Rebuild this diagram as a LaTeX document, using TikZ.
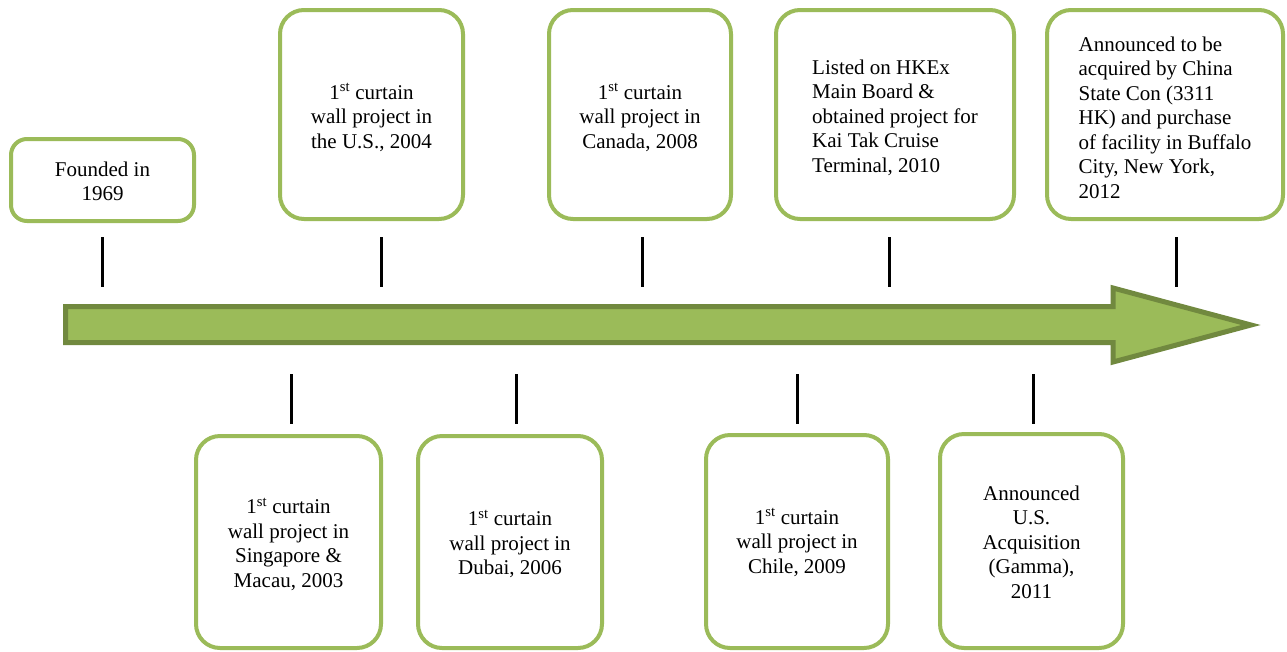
\documentclass[tikz,border=0pt]{standalone}
\usepackage{fontspec}
\setmainfont{Liberation Serif}
\definecolor{boxgreen}{HTML}{9BBB59}
\definecolor{arrowedge}{HTML}{71893F}
\begin{document}
\begin{tikzpicture}[x=1pt,y=-1pt,
  box/.style={draw=boxgreen, line width=4pt, rounded corners=24pt, fill=white, inner sep=0pt},
  smallbox/.style={box, rounded corners=16pt},
  boxtext/.style={font=\fontsize{21}{24.5}\selectfont, align=center, inner sep=0pt, yshift=-3pt},
  tick/.style={line width=3pt, black},
  timearrow/.style={fill=boxgreen, draw=arrowedge, line width=5pt, line join=miter}]
\useasboundingbox (0,0) rectangle (1287,651);

% main arrow
\draw[timearrow] (65.5,306.5) -- (1113,306.5) -- (1113,288) -- (1251,325) -- (1113,362) -- (1113,342.5) -- (65.5,342.5) -- cycle;

% top boxes
\node[smallbox, minimum width=183, minimum height=82,
  label={[boxtext, yshift=1.5pt]center:Founded in\\1969}] (b1969) at (102.5,180) {};
\node[box, minimum width=183, minimum height=209,
  label={[boxtext]center:1\textsuperscript{st} curtain\\wall project in\\the U.S., 2004}] (b2004) at (371.5,114.5) {};
\node[box, minimum width=182, minimum height=209,
  label={[boxtext]center:1\textsuperscript{st} curtain\\wall project in\\Canada, 2008}] (b2008) at (640,114.5) {};
\node[box, minimum width=238, minimum height=209,
  label={[boxtext, align=left]center:Listed on HKEx\\Main Board \&\\obtained project for\\Kai Tak Cruise\\Terminal, 2010}] (b2010) at (895,114.5) {};
\node[box, minimum width=236, minimum height=209,
  label={[boxtext, align=left]center:Announced to be\\acquired by China\\State Con (3311\\HK) and purchase\\of facility in Buffalo\\City, New York,\\2012}] (b2012) at (1165,114.5) {};

% bottom boxes
\node[box, minimum width=185, minimum height=212,
  label={[boxtext, yshift=1pt]center:1\textsuperscript{st} curtain\\wall project in\\Singapore \&\\Macau, 2003}] (b2003) at (288.5,542) {};
\node[box, minimum width=184, minimum height=212,
  label={[boxtext, yshift=1pt]center:1\textsuperscript{st} curtain\\wall project in\\Dubai, 2006}] (b2006) at (510,542) {};
\node[box, minimum width=182, minimum height=213,
  label={[boxtext, yshift=2pt]center:1\textsuperscript{st} curtain\\wall project in\\Chile, 2009}] (b2009) at (797,541.5) {};
\node[box, minimum width=183, minimum height=214,
  label={[boxtext, yshift=2pt]center:Announced\\U.S.\\Acquisition\\(Gamma),\\2011}] (b2011) at (1031.5,541) {};

% ticks
\foreach \n/\x in {1/102,2/381,3/642,4/889,5/1176}{
  \coordinate (ta\n) at (\x,237);
  \coordinate (tb\n) at (\x,287);
  \draw[tick] (ta\n) -- (tb\n);
}
\foreach \n/\x in {6/291,7/516,8/797,9/1033}{
  \coordinate (ta\n) at (\x,374);
  \coordinate (tb\n) at (\x,424);
  \draw[tick] (ta\n) -- (tb\n);
}
\end{tikzpicture}
\end{document}
